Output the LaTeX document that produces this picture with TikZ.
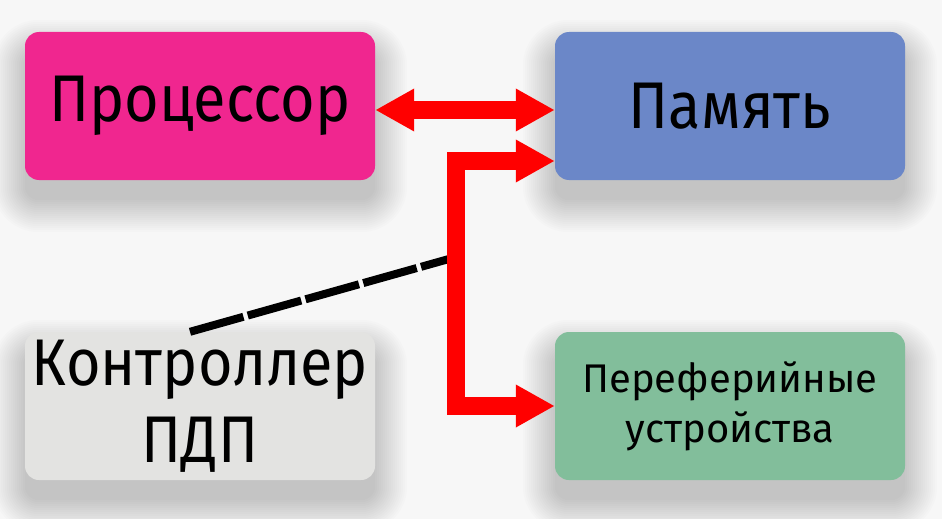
\documentclass[tikz,border=0pt]{standalone}
\usepackage{fontspec}
\setmainfont{Fira Sans}
\newfontfamily\bigface[FakeStretch=0.9]{Fira Sans}
\usetikzlibrary{arrows.meta,backgrounds}
\definecolor{procC}{RGB}{240,38,143}
\definecolor{memC}{RGB}{107,135,200}
\definecolor{ctrlC}{RGB}{227,227,225}
\definecolor{perC}{RGB}{130,190,155}
\definecolor{bgC}{RGB}{247,247,247}
\definecolor{busC}{RGB}{255,0,0}
\tikzset{
  box/.style={rectangle, rounded corners=14pt, minimum width=350pt, minimum height=148pt,
    inner sep=0pt, align=center, text=black},
  bigtext/.style={font=\bigface\fontsize{66}{77}\selectfont},
  smalltext/.style={font=\fontsize{40}{50}\selectfont},
  bus/.style={draw=busC, line width=18pt, line join=miter,
    arrows={Triangle[length=39pt,width=40pt]-Triangle[length=39pt,width=40pt]}},
  dmaline/.style={draw=black, line width=8pt, dash pattern=on 55.5pt off 4.5pt},
  shadowlayer/.style={fill=black, opacity=0.011}
}
\begin{document}
\begin{tikzpicture}[x=1pt,y=-1pt]
\useasboundingbox (0,0) rectangle (942,519);
\node[box, fill=procC, bigtext] (proc) at (200,106) {Процессор};
\node[box, fill=memC, bigtext] (mem) at (730,106) {Память};
\node[box, fill=ctrlC, bigtext] (ctrl) at (200,406) {Контроллер\\ПДП};
\node[box, fill=perC, smalltext] (per) at (730,406) {Переферийные\\устройства};
\begin{scope}[on background layer]
  \fill[bgC] (0,0) rectangle (942,519);
  \foreach \n in {proc,mem,ctrl,per}{
    \foreach \r in {0,2,...,32}{
      \pgfmathsetmacro\rc{14+\r}
      \pgfmathsetmacro\dy{-20-\r}
      \pgfmathsetmacro\uy{-20+\r}
      \fill[shadowlayer, rounded corners=\rc pt]
        ([xshift=-\r pt, yshift=\dy pt]\n.south west) rectangle
        ([xshift=\r pt, yshift=\uy pt]\n.north east);
    }
  }
\end{scope}
\coordinate (busnode) at (456,257);
\draw[dmaline] ([xshift=-10pt]ctrl.north) -- (busnode);
\draw[bus] ([yshift=-4pt]proc.east) -- ([yshift=-4pt]mem.west);
\draw[bus] ([yshift=-55pt]mem.west) -| (busnode) |- (per.west);
\end{tikzpicture}
\end{document}
